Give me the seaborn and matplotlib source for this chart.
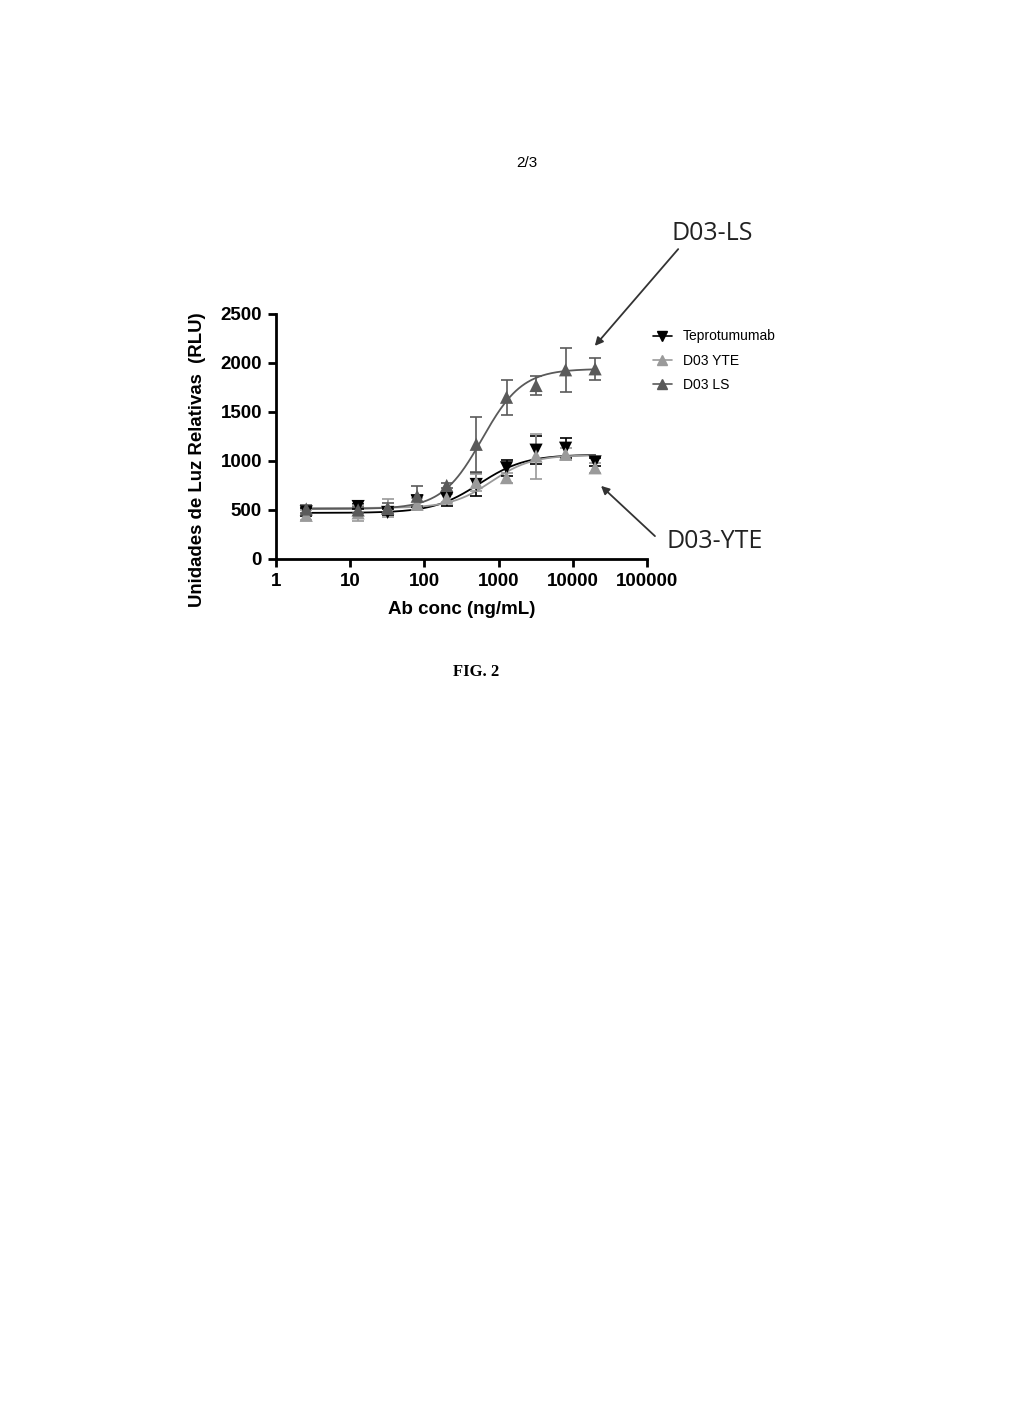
import numpy as np
import pandas as pd
import matplotlib
matplotlib.use("Agg")
import matplotlib.pyplot as plt
import seaborn as sns

# concentrations (ng/mL) and mean / SD
conc = [2.56, 12.8, 32, 80, 200, 500, 1280, 3200, 8000, 20000]
tepro_mean = [480, 535, 475, 590, 615, 760, 930, 1110, 1130, 990]
tepro_sd = [40, 30, 30, 60, 70, 120, 80, 140, 100, 40]
yte_mean = [445, 470, 520, 560, 620, 780, 830, 1050, 1070, 930]
yte_sd = [50, 80, 90, 60, 40, 90, 50, 230, 60, 50]
ls_mean = [510, 500, 520, 640, 750, 1170, 1650, 1770, 1930, 1940]
ls_sd = [40, 30, 50, 100, 30, 280, 180, 100, 225, 115]

# 4PL fit parameters (bottom, top, EC50, hill) estimated from the drawn curves
tepro_fit = [470, 1065, 550, 1.4]
yte_fit = [520, 1060, 800, 1.6]
ls_fit = [510, 1940, 600, 1.6]

series_names = ["Teprotumumab", "D03 YTE", "D03 LS"]
x_ticks = [1, 10, 100, 1000, 10000, 100000]
x_tick_labels = ["1", "10", "100", "1000", "10000", "100000"]
y_ticks = [0, 500, 1000, 1500, 2000, 2500]

colors = {"Teprotumumab": "#000000", "D03 YTE": "#9a9a9a", "D03 LS": "#5a5a5a"}
markers = {"Teprotumumab": "v", "D03 YTE": "^", "D03 LS": "^"}


def four_pl(x, p):
    bottom, top, ec50, hill = p
    return bottom + (top - bottom) / (1 + (ec50 / x) ** hill)


points = pd.concat([
    pd.DataFrame({"conc": conc, "rlu": m, "sd": s, "Ab": n})
    for n, m, s in zip(series_names, [tepro_mean, yte_mean, ls_mean],
                       [tepro_sd, yte_sd, ls_sd])
])

xfit = np.logspace(np.log10(conc[0]), np.log10(conc[-1]), 300)
curves = pd.concat([
    pd.DataFrame({"conc": xfit, "rlu": four_pl(xfit, p), "Ab": n})
    for n, p in zip(series_names, [tepro_fit, yte_fit, ls_fit])
])

sns.set_style("ticks", {"text.color": "black", "axes.labelcolor": "black",
                        "xtick.color": "black", "ytick.color": "black",
                        "axes.edgecolor": "black"})
plt.rcParams["font.family"] = ["Liberation Sans", "DejaVu Sans"]

fig = plt.figure(figsize=(10.09, 14.27), dpi=100)
ax = fig.add_axes([0.2735, 0.6083, 0.3677, 0.1717])

# fitted curves
sns.lineplot(data=curves, x="conc", y="rlu", hue="Ab", palette=colors,
             linewidth=1.3, legend=False, ax=ax, zorder=2)

# error bars
for n in series_names:
    d = points[points["Ab"] == n]
    ax.errorbar(d["conc"], d["rlu"], yerr=d["sd"], fmt="none",
                ecolor=colors[n], elinewidth=1.2, capsize=4, capthick=1.2, zorder=3)

# mean markers
sns.scatterplot(data=points, x="conc", y="rlu", hue="Ab", style="Ab",
                palette=colors, markers=markers, s=90, edgecolor="none",
                legend=False, ax=ax, zorder=4)

ax.set_xscale("log")
ax.set_xlim(1, 100000)
ax.set_ylim(0, 2500)
ax.set_xticks(x_ticks)
ax.set_xticklabels(x_tick_labels)
ax.set_yticks(y_ticks)
ax.minorticks_off()
ax.tick_params(axis="both", which="major", length=6, width=2, labelsize=13.5, pad=4)
for lab in ax.get_xticklabels() + ax.get_yticklabels():
    lab.set_fontweight("bold")
for side in ["left", "bottom"]:
    ax.spines[side].set_linewidth(2)
sns.despine(ax=ax)

ax.set_xlabel("Ab conc (ng/mL)", fontsize=13.5, fontweight="bold", labelpad=8)
ax.set_ylabel("Unidades de Luz Relativas  (RLU)", fontsize=13.4,
              fontweight="bold", va="center")
ax.yaxis.set_label_coords(-0.212, 0.404)

# legend
handles = [plt.Line2D([], [], color=colors[n], marker=markers[n], markersize=7,
                      linewidth=1.2) for n in series_names]
fig.legend(handles, series_names, loc="upper left",
           bbox_to_anchor=(640 / 1009, 1 - 317 / 1427), frameon=False,
           fontsize=10, handlelength=1.4, labelspacing=0.75)

# callouts
fig.text(712 / 1009, 1 - 233 / 1427, "D03-LS", fontsize=18, family="Open Sans",
         ha="center", va="center", color="#222222")
fig.text(715 / 1009, 1 - 541 / 1427, "D03-YTE", fontsize=18, family="Open Sans",
         ha="center", va="center", color="#222222")
ax.annotate("", xy=(593 / 1009, 1 - 348 / 1427), xycoords="figure fraction",
            xytext=(680 / 1009, 1 - 247 / 1427), textcoords="figure fraction",
            arrowprops=dict(arrowstyle="-|>", color="#333333", lw=1.3,
                            mutation_scale=12))
ax.annotate("", xy=(599 / 1009, 1 - 484 / 1427), xycoords="figure fraction",
            xytext=(657 / 1009, 1 - 538 / 1427), textcoords="figure fraction",
            arrowprops=dict(arrowstyle="-|>", color="#333333", lw=1.3,
                            mutation_scale=12))

fig.text(527 / 1009, 1 - 163 / 1427, "2/3", fontsize=11, ha="center", va="center")
fig.text(476 / 1009, 1 - 672 / 1427, "FIG. 2", fontsize=12, fontweight="bold",
         family="Liberation Serif", ha="center", va="center")

fig.savefig("out.png", dpi=100)
